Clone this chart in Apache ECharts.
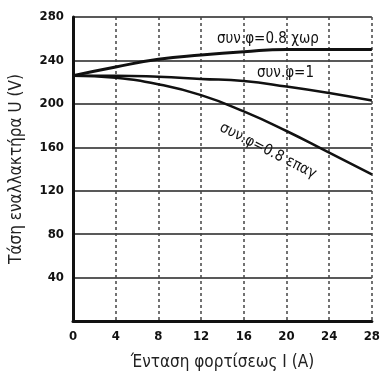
<!DOCTYPE html>
<html>
<head>
<meta charset="utf-8">
<script src="https://cdn.jsdelivr.net/npm/echarts@6/dist/echarts.min.js"></script>
<style>
  html, body { margin: 0; padding: 0; background: #fff; }
  #chart { width: 383px; height: 376px; }
</style>
</head>
<body>
<div id="chart"></div>
<script>
var currentData = [0, 4, 8, 12, 16, 20, 24, 28];
var capData = [226, 234, 241, 245, 248, 250, 250, 250];
var unityData = [226, 226, 225, 223, 221, 216, 210, 203];
var indData = [226, 224, 218, 208, 193, 175, 155, 135];

function pairs(vals) {
    return vals.map(function (v, i) { return [currentData[i], v]; });
}

var dom = document.getElementById('chart');
var chart = echarts.init(dom, null, { renderer: 'canvas' });
var fontFam = 'DejaVu Sans Condensed, DejaVu Sans, sans-serif';

var option = {
    backgroundColor: '#fff',
    animation: false,
    grid: { left: 69, right: 10, top: 17, bottom: 55 },
    xAxis: {
        type: 'value',
        min: 0, max: 28, interval: 4,
        name: 'Ένταση φορτίσεως I (A)',
        nameLocation: 'middle',
        nameGap: 33,
        nameTextStyle: { color: '#222', fontSize: 17, fontFamily: fontFam },
        axisLine: { lineStyle: { color: '#111', width: 3 } },
        axisTick: { show: false },
        axisLabel: { color: '#111', fontSize: 13, fontWeight: 'bold', fontFamily: fontFam, margin: 9 },
        splitLine: { show: true, lineStyle: { color: '#444', type: [3, 3], width: 1.5 } }
    },
    yAxis: {
        type: 'value',
        min: 0, max: 280, interval: 40,
        name: 'Τάση εναλλακτήρα U (V)',
        nameLocation: 'middle',
        nameGap: 48,
        nameTextStyle: { color: '#222', fontSize: 17, fontFamily: fontFam },
        axisLine: { show: true, lineStyle: { color: '#111', width: 3 } },
        axisTick: { show: false },
        axisLabel: {
            color: '#111', fontSize: 13, fontWeight: 'bold', fontFamily: fontFam, margin: 9,
            formatter: function (v) { return v === 0 ? '' : v; }
        },
        splitLine: { show: true, lineStyle: { color: '#222', width: 1.5 } }
    },
    series: [
        {
            name: 'συν.φ=0.8 χωρ',
            type: 'line', smooth: true, symbol: 'none',
            lineStyle: { color: '#111', width: 3 },
            data: pairs(capData)
        },
        {
            name: 'συν.φ=1',
            type: 'line', smooth: true, symbol: 'none',
            lineStyle: { color: '#111', width: 2.5 },
            data: pairs(unityData)
        },
        {
            name: 'συν.φ=0.8 επαγ',
            type: 'line', smooth: true, symbol: 'none',
            lineStyle: { color: '#111', width: 2.5 },
            data: pairs(indData)
        }
    ],
    graphic: [
        { type: 'rect', left: 215, top: 31, shape: { width: 112, height: 18 }, style: { fill: '#fff' } },
        { type: 'text', left: 217, top: 32, style: { text: 'συν.φ=0.8 χωρ', fontSize: 15, fontFamily: fontFam, fill: '#111' } },
        { type: 'rect', left: 254, top: 65, shape: { width: 64, height: 17 }, style: { fill: '#fff' } },
        { type: 'text', left: 257, top: 66, style: { text: 'συν.φ=1', fontSize: 15, fontFamily: fontFam, fill: '#111' } },
        { type: 'text', x: 224, y: 120, rotation: -Math.PI / 180 * 27, style: { text: 'συν.φ=0.8 επαγ', fontSize: 15, fontFamily: fontFam, fill: '#111', backgroundColor: '#fff' } }
    ]
};

chart.setOption(option);
</script>
</body>
</html>
